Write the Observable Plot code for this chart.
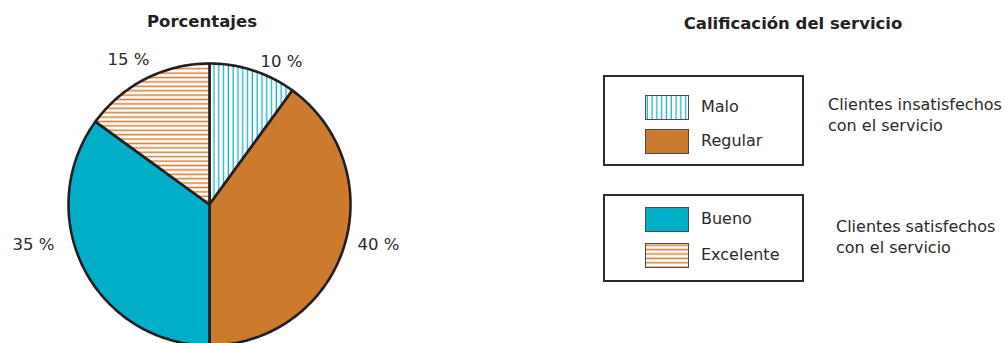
<!DOCTYPE html>
<html><head><meta charset="utf-8">
<script src="https://cdn.jsdelivr.net/npm/d3@7"></script>
<script src="https://cdn.jsdelivr.net/npm/@observablehq/plot@0.6"></script>
<style>
html,body{margin:0;padding:0;background:#fff;}
#root{position:relative;width:1004px;height:343px;overflow:hidden;font-family:"DejaVu Sans",sans-serif;color:#2a2a2a;}
.abs{position:absolute;white-space:nowrap;}
.title{font-weight:bold;font-size:16.5px;line-height:20px;transform:translateX(-50%);color:#222;}
.box{position:absolute;box-sizing:border-box;border:2.5px solid #2b2b2b;background:#fff;}
.sw{position:absolute;}
.lg{position:absolute;font-size:16px;line-height:20px;white-space:nowrap;}
.grp{position:absolute;font-size:16px;line-height:21px;white-space:pre;}
</style></head><body>
<svg width="0" height="0" style="position:absolute">
<defs>
<pattern id="pat-malo" patternUnits="userSpaceOnUse" width="4.8" height="10">
<rect width="4.8" height="10" fill="#fff"/><rect x="1.6" width="1.3" height="10" fill="#1BB0CB"/></pattern>
<pattern id="pat-exc" patternUnits="userSpaceOnUse" width="10" height="4.4">
<rect width="10" height="4.4" fill="#fff"/><rect y="1.4" width="10" height="1.6" fill="#D3853C"/></pattern>
</defs></svg>
<div id="root"></div>
<script>
// ---- data ----
const categories = ["Malo", "Regular", "Bueno", "Excelente"];
const percentages = [10, 40, 35, 15];
const fills = ["url(#pat-malo)", "#CB7A2E", "#00AEC7", "url(#pat-exc)"];
const chartTitle = "Porcentajes";
const legendTitle = "Calificación del servicio";
const groupNames = ["Clientes insatisfechos\ncon el servicio", "Clientes satisfechos\ncon el servicio"];
const groupMembers = [["Malo", "Regular"], ["Bueno", "Excelente"]];

// ---- layout (unit-circle coordinates for slice labels) ----
const labelPos = [[0.51, 1.01], [1.199, -0.284], [-1.248, -0.284], [-0.574, 1.028]];

const root = document.getElementById("root");

const arcs = d3.pie().sort(null).value(d => d)(percentages);
const sliceMarks = arcs.map((a, i) => {
  const pts = [{x: 0, y: 0}];
  const n = Math.max(2, Math.ceil((a.endAngle - a.startAngle) / (Math.PI / 180)));
  for (let k = 0; k <= n; k++) {
    const t = a.startAngle + (a.endAngle - a.startAngle) * k / n;
    pts.push({x: Math.sin(t), y: Math.cos(t)});
  }
  return Plot.line(pts, {x: "x", y: "y", curve: "linear-closed", fill: fills[i],
    stroke: "#231f20", strokeWidth: 2.6, strokeLinejoin: "round"});
});

const labelData = categories.map((c, i) => ({c, p: percentages[i], lx: labelPos[i][0], ly: labelPos[i][1]}));

const plot = Plot.plot({
  width: 420, height: 343, margin: 0,
  style: {fontFamily: '"DejaVu Sans", sans-serif', background: "transparent", color: "#2a2a2a"},
  x: {domain: [-1, 1], range: [68, 350], axis: null},
  y: {domain: [-1, 1], range: [345, 63], axis: null},
  marks: [
    ...sliceMarks,
    Plot.text(labelData, {x: "lx", y: "ly", text: d => `${d.p} %`, fontSize: 16.5, fill: "#2a2a2a"})
  ]
});
plot.style.position = "absolute";
plot.style.left = "0px";
plot.style.top = "0px";
root.appendChild(plot);

function add(cls, text, css) {
  const d = document.createElement("div");
  d.className = cls;
  d.textContent = text;
  Object.assign(d.style, css);
  root.appendChild(d);
  return d;
}
add("abs title", chartTitle, {left: "202px", top: "12px"});
add("abs title", legendTitle, {left: "793px", top: "14px"});

const boxTops = [75, 194], boxHeights = [91, 88];
const swTops = [[95, 129], [207, 243]];
const grpLeft = [828, 836], grpTop = [94, 216];
groupMembers.forEach((members, g) => {
  add("box", "", {left: "603px", top: boxTops[g] + "px", width: "201px", height: boxHeights[g] + "px"});
  members.forEach((m, j) => {
    const i = categories.indexOf(m);
    const top = swTops[g][j];
    const s = document.createElementNS("http://www.w3.org/2000/svg", "svg");
    s.setAttribute("width", 44); s.setAttribute("height", 25);
    s.setAttribute("class", "sw");
    s.style.left = "645px"; s.style.top = top + "px";
    s.innerHTML = `<rect x="0.5" y="0.5" width="43" height="24" fill="${fills[i]}" stroke="#4a4a4a" stroke-width="1"/>`;
    root.appendChild(s);
    add("lg", m, {left: "701px", top: (top + 2) + "px"});
  });
  add("grp", groupNames[g], {left: grpLeft[g] + "px", top: grpTop[g] + "px"});
});
</script>
</body></html>
